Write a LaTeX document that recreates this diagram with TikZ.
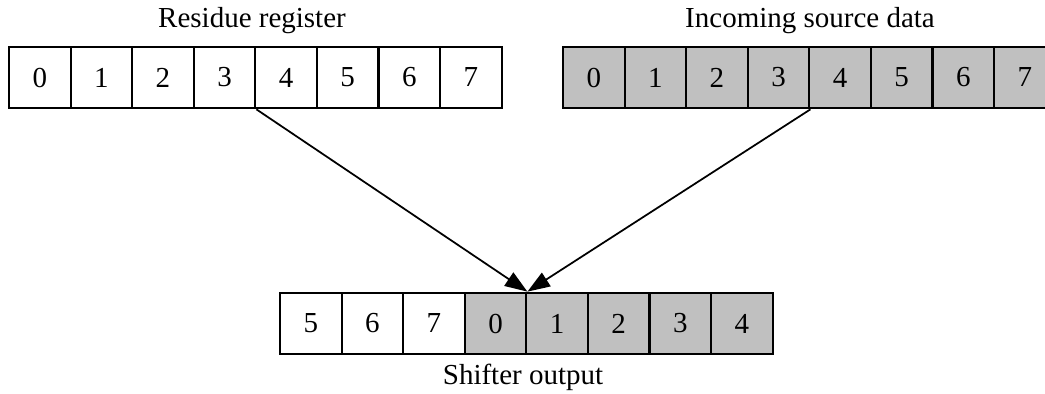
\documentclass[tikz,border=0pt]{standalone}
\usepackage{fontspec}
\setmainfont{Liberation Serif}
\usetikzlibrary{arrows.meta,positioning}
\definecolor{shade}{HTML}{C0C0C0}
\tikzset{
  cell/.style={draw, line width=1.2pt, minimum size=1.232cm, inner sep=0pt, fill=white},
  newcell/.style={cell, fill=shade},
  link/.style={-{Triangle[length=0.45cm,width=0.32cm]}, line width=1pt}
}
\begin{document}
\begin{tikzpicture}[x=0.02cm, y=-0.02cm, node distance=1.232cm, font=\fontsize{16.5}{19}\selectfont]
            \useasboundingbox (0,0) rectangle (1045,393);
            % residue register
            \node[cell](r0) at (39.8,77.5) {0};
            \foreach \i [count=\j from 0] in {1,...,7}
              \node[cell](r\i) [right of=r\j] {\i};
            % incoming source data
            \node[newcell](s0) at (593.8,77.5) {0};
            \foreach \i [count=\j from 0] in {1,...,7}
              \node[newcell](s\i) [right of=s\j] {\i};
            % shifter output
            \node[cell](o0) at (310.8,323.5) {5};
            \foreach \lab/\sty [count=\i, remember=\i as \j (initially 0)] in {6/cell,7/cell,0/newcell,1/newcell,2/newcell,3/newcell,4/newcell}
              \node[\sty](o\i) [right of=o\j] {\lab};
            \node(rtitle) at (252,21) {Residue register};
            \node(stitle) at (810,21) {Incoming source data};
            \node(otitle) at (523,377) {Shifter output};
            \draw[link](r3.south east) to (o3.north east);
            \draw[link](s3.south east) to (o3.north east);
            \end{tikzpicture}
\end{document}
